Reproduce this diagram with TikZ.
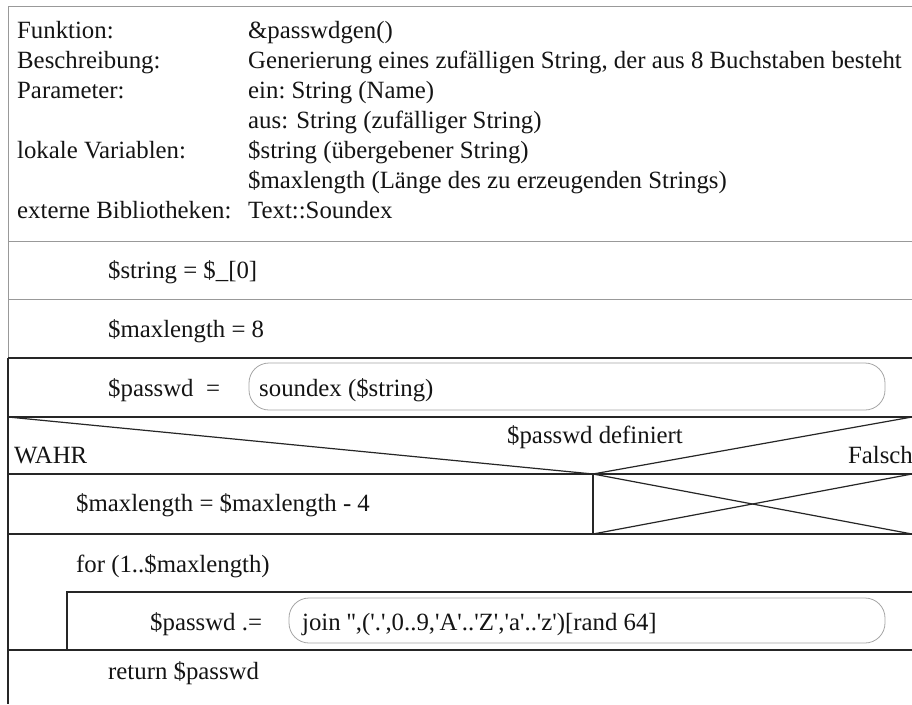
\documentclass[tikz,border=0pt]{standalone}
\usepackage{fontspec}
\setmainfont{Liberation Serif}
\newcommand\sqt{\textquotesingle}
\begin{document}
\begin{tikzpicture}[x=1pt,y=-1pt,
  lite/.style={draw=black!40, line width=1pt},
  dark/.style={draw=black!85, line width=1.2pt},
  pill/.style={draw=black!35, line width=0.8pt, rounded corners=20pt},
  txt/.style={anchor=base west, inner sep=0pt, font=\fontsize{24.8}{29}\selectfont, text=black!92}]
\useasboundingbox (0,0) rectangle (912,704);
\fill[white] (0,0) rectangle (912,704);

% header
\node[txt] (k1) at (17,38) {Funktion:};
\node[txt] (k2) at (17,68) {Beschreibung:};
\node[txt] (k3) at (17,98) {Parameter:};
\node[txt] (k5) at (17,158) {lokale Variablen:};
\node[txt] (k7) at (17,218) {externe Bibliotheken:};
\node[txt] (v1) at (248,38) {\&passwdgen()};
\node[txt] (v2) at (248,68) {Generierung eines zufälligen String, der aus 8 Buchstaben besteht};
\node[txt] (v3) at (248,98) {ein:\ String (Name)};
\node[txt] (v4) at (248,128) {aus: String (zufälliger String)};
\node[txt] (v5) at (248,158) {\$string (übergebener String)};
\node[txt] (v6) at (248,188) {\$maxlength (Länge des zu erzeugenden Strings)};
\node[txt] (v7) at (248,218) {Text::Soundex};

% frame lines
\draw[lite] (8,704) -- (8,6) -- (912,6);
\draw[lite] (8,241) -- (912,241);
\draw[lite] (8,299) -- (912,299);
\draw[dark] (8,358) -- (912,358);
\draw[dark] (8,358) -- (8,704);

% simple rows
\node[txt] (r1) at (108,278) {\$string = \$\_[0]};
\node[txt] (r2) at (108,337) {\$maxlength = 8};
\node[txt] (r3) at (108,396) {\$passwd~~=};
\draw[pill] (249,363) rectangle (885,410);
\node[txt] (s1) at (259,396) {soundex (\$string)};

% decision
\draw[dark] (8,417) -- (912,417);
\draw[dark] (8,417) -- (593,474) -- (912,417);
\node[txt, anchor=base] (cond) at (595,443) {\$passwd definiert};
\node[txt] (wahr) at (14,463) {WAHR};
\node[txt, anchor=base east] (falsch) at (913,463) {Falsch};

% branches
\draw[dark] (8,474) -- (912,474);
\draw[dark] (8,534) -- (912,534);
\draw[dark] (593,474) -- (593,534);
\draw[dark] (593,474) -- (912,534);
\draw[dark] (593,534) -- (912,474);
\node[txt] (r5) at (76,511) {\$maxlength = \$maxlength - 4};

% loop
\node[txt] (loop) at (76,572) {for (1..\$maxlength)};
\draw[dark] (67,650) -- (67,592) -- (912,592);
\node[txt] (r6) at (150,630) {\$passwd .=};
\draw[pill] (289,598) rectangle (885,643);
\node[txt] (s2) at (302,630) {join \sqt\sqt,(\sqt.\sqt,0..9,\sqt A\sqt..\sqt Z\sqt,\sqt a\sqt..\sqt z\sqt)[rand 64]};
\draw[dark] (8,650) -- (912,650);

% return
\node[txt] (ret) at (108,679) {return \$passwd};
\end{tikzpicture}
\end{document}
